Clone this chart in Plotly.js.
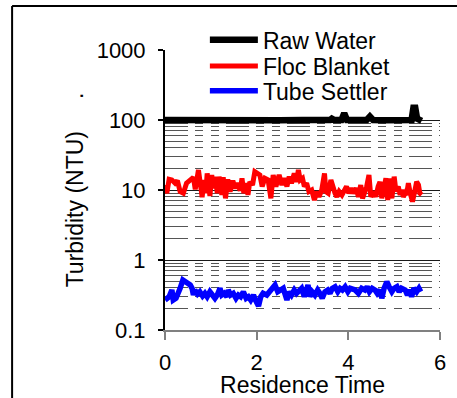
<!DOCTYPE html>
<html>
<head>
<meta charset="utf-8">
<script src="https://cdn.plot.ly/plotly-3.0.1.min.js"></script>
<style>html,body{margin:0;padding:0;background:#fff;}#chart{width:457px;height:398px;}</style>
</head>
<body>
<div id="chart"></div>
<script>
// ---- data ----
const seriesNames = ["Raw Water", "Floc Blanket", "Tube Settler"];
const xTickVals = [0, 2, 4, 6];
const yTickVals = [0.1, 1, 10, 100, 1000];
const yTickText = ["0.1", "1", "10", "100", "1000"];
const yMinorVals = [0.2,0.3,0.4,0.5,0.6,0.7,0.8,0.9,2,3,4,5,6,7,8,9,20,30,40,50,60,70,80,90];

const rawT = [0, 0.5, 1.0, 1.5, 2.0, 2.5, 3.0, 3.5, 3.6, 3.64, 3.7, 3.85, 3.91, 3.97, 4.1, 4.4, 4.47, 4.54, 4.8, 5.2, 5.38, 5.42, 5.46, 5.5, 5.56, 5.6];
const rawV = [100, 99, 100, 98, 100, 99, 100, 99, 100, 105, 100, 100, 125, 100, 99, 100, 112, 100, 99, 100, 100, 150, 150, 105, 100, 97];

const flocT = [0.00,0.04,0.09,0.15,0.22,0.27,0.33,0.40,0.47,0.56,0.62,0.66,0.73,0.76,0.81,0.85,0.89,0.92,0.98,1.02,1.05,1.10,1.14,1.18,1.24,1.27,1.32,1.37,1.42,1.48,1.53,1.58,1.64,1.68,1.72,1.77,1.81,1.85,1.91,1.96,
  2.07,2.12,2.18,2.25,2.31,2.36,2.42,2.49,2.55,2.60,2.66,2.71,2.76,2.82,2.87,2.91,2.95,3.00,3.04,3.09,3.14,3.20,3.26,3.31,3.36,3.42,3.48,3.51,3.56,3.62,3.67,3.71,3.75,3.80,3.86,3.91,3.96,4.01,
  4.06,4.11,4.17,4.22,4.27,4.31,4.36,4.40,4.45,4.49,4.55,4.60,4.65,4.69,4.73,4.78,4.82,4.86,4.89,4.95,5.00,5.04,5.09,5.13,5.16,5.20,5.24,5.27,5.31,5.35,5.40,5.44,5.49,5.53,5.56,5.60];
const flocV = [11.8,9.0,14.2,13.9,12.5,13.6,9.5,9.0,12.5,14.2,15.2,10.2,19.3,13.9,7.9,13.9,9.0,17.3,8.2,16.4,10.6,15.5,9.0,15.5,8.5,15.2,7.6,14.2,9.5,13.6,10.6,12.5,9.8,14.7,9.0,12.5,8.5,13.1,11.8,18.3,
  16.4,11.2,14.7,13.9,7.6,16.4,11.2,16.4,11.8,14.7,11.2,15.5,12.5,17.3,13.1,19.3,13.9,14.7,11.2,12.5,9.5,10.0,7.2,9.5,8.0,10.0,17.3,9.5,9.0,13.9,10.0,9.0,8.0,9.5,8.5,9.5,11.2,9.0,
  10.6,9.0,10.6,8.0,11.8,7.6,9.5,11.2,16.4,8.0,9.5,8.0,11.2,13.1,7.6,11.2,14.7,7.2,14.7,7.6,15.5,9.5,11.2,8.5,10.0,8.0,9.0,8.5,12.5,9.0,6.8,9.0,13.1,11.8,9.0,8.5];

const tubeT = [0.00,0.04,0.09,0.15,0.18,0.24,0.29,0.33,0.39,0.44,0.50,0.55,0.59,0.62,0.65,0.71,0.76,0.82,0.87,0.92,0.98,1.03,1.09,1.14,1.20,1.24,1.29,1.35,1.38,1.43,1.49,1.55,1.60,1.65,1.71,1.77,1.82,1.87,1.93,1.99,
  2.04,2.09,2.14,2.22,2.29,2.36,2.40,2.46,2.51,2.58,2.66,2.71,2.76,2.82,2.87,2.92,2.98,3.04,3.09,3.12,3.16,3.21,3.27,3.33,3.38,3.43,3.49,3.55,3.60,3.65,3.71,3.77,3.82,3.87,3.93,3.99,4.04,
  4.15,4.22,4.29,4.36,4.41,4.46,4.52,4.58,4.63,4.69,4.73,4.78,4.84,4.89,4.95,5.00,5.06,5.11,5.16,5.24,5.29,5.33,5.38,5.43,5.49,5.54,5.58];
const tubeV = [0.268,0.284,0.299,0.373,0.268,0.284,0.334,0.394,0.518,0.49,0.465,0.44,0.394,0.316,0.373,0.327,0.352,0.306,0.334,0.299,0.352,0.327,0.284,0.316,0.394,0.316,0.334,0.299,0.373,0.316,0.334,0.284,0.316,0.299,0.352,0.284,0.299,0.268,0.316,0.254,
  0.22,0.299,0.334,0.316,0.352,0.394,0.44,0.352,0.373,0.394,0.268,0.352,0.316,0.373,0.334,0.352,0.394,0.299,0.373,0.44,0.299,0.352,0.316,0.373,0.334,0.284,0.352,0.373,0.334,0.394,0.415,0.352,0.394,0.373,0.415,0.352,0.394,
  0.373,0.334,0.394,0.373,0.415,0.352,0.394,0.373,0.334,0.373,0.284,0.394,0.49,0.415,0.352,0.394,0.415,0.352,0.394,0.373,0.316,0.373,0.299,0.394,0.352,0.394,0.352];

const FONT = "Arial, 'Liberation Sans', sans-serif";

const traces = [
  {x: rawT, y: rawV, name: seriesNames[0], mode: "lines", line: {color: "#000000", width: 6.5}, legend: "legend"},
  {x: flocT, y: flocV, name: seriesNames[1], mode: "lines", line: {color: "#ff0000", width: 5}, legend: "legend2"},
  {x: tubeT, y: tubeV, name: seriesNames[2], mode: "lines", line: {color: "#0000ff", width: 5.5}, legend: "legend3"}
];

function legendBox(yPaper) {
  return {x: 0.145, xanchor: "left", y: yPaper, yanchor: "middle", bgcolor: "rgba(0,0,0,0)",
          font: {family: FONT, size: 23, color: "#000"}, itemwidth: 48};
}

const layout = {
  width: 457, height: 398,
  margin: {l: 165, r: 17, t: 50, b: 68, pad: 0},
  paper_bgcolor: "#ffffff", plot_bgcolor: "#ffffff",
  font: {family: FONT, size: 22, color: "#000"},
  showlegend: true,
  legend: legendBox(1.036),
  legend2: legendBox(0.943),
  legend3: legendBox(0.854),
  xaxis: {
    range: [0, 6], tickmode: "array", tickvals: xTickVals, showgrid: false, zeroline: false,
    showline: true, linecolor: "#808080", linewidth: 2,
    ticks: "outside", ticklen: 8, tickwidth: 2, tickcolor: "#808080",
    tickfont: {family: FONT, size: 22, color: "#000"}, ticklabelstandoff: 4,
    title: {text: "Residence Time", font: {family: FONT, size: 23, color: "#000"}, standoff: 5}
  },
  yaxis: {
    type: "log", range: [-1, 3], tickmode: "array", tickvals: yTickVals, ticktext: yTickText,
    showgrid: true, gridcolor: "#1a1a1a", gridwidth: 1, zeroline: false,
    showline: true, linecolor: "#000", linewidth: 2,
    ticks: "outside", ticklen: 5, tickwidth: 1.5, tickcolor: "#000",
    tickfont: {family: FONT, size: 22, color: "#000"}, ticklabelstandoff: 8,
    minor: {tickmode: "array", tickvals: yMinorVals, showgrid: true, gridcolor: "#555555", gridwidth: 1,
            griddash: "23px,7px,8px,8px,8px,7px", ticks: ""},
    title: {text: "Turbidity (NTU)\u00a0\u00a0\u00a0\u00a0\u00a0.", font: {family: FONT, size: 23, color: "#000"}, standoff: 7}
  },
  shapes: [
    {type: "rect", xref: "paper", yref: "paper", x0: 0.006, x1: 1.02, y0: 0.994, y1: 1.008,
     fillcolor: "#ffffff", line: {width: 0}, layer: "above"},
    {type: "line", xref: "paper", yref: "paper", x0: -0.556, x1: 1.2, y0: 1.157, y1: 1.157,
     line: {color: "#000", width: 2}},
    {type: "line", xref: "paper", yref: "paper", x0: -0.556, x1: -0.556, y0: 1.157, y1: -0.3,
     line: {color: "#000", width: 2}}
  ]
};

Plotly.newPlot("chart", traces, layout, {displayModeBar: false, staticPlot: true});
</script>
</body>
</html>
